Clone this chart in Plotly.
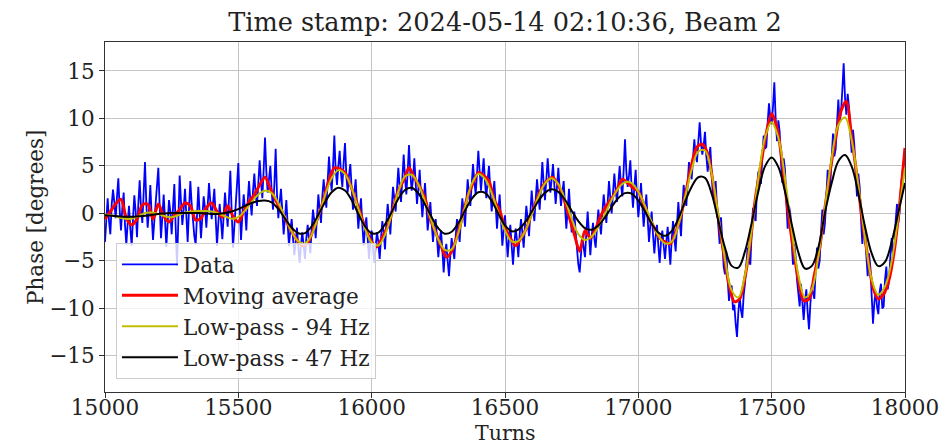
import plotly.graph_objects as go

# ---------------- data ----------------
# Raw data, sampled every 5 turns (15000 ... 18000)
DATA_START, DATA_STEP = 15000, 5
data_phase = [
    -3.0, -0.4, 1.6, -0.8, -2.2, 0.9, 2.5, 1.2, -0.5, 1.8, 3.7, 0.4, -1.8, 0.6, 2.2, -1.2, -3.3, -1.0, 0.8, -1.6,          # 15000
    -3.4, -0.6, 1.9, 0.2, -2.5, 1.0, 3.5, 0.6, -1.0, 2.2, 5.4, 1.0, -1.5, 0.4, 3.0, -0.2, -2.8, -0.8, 1.2, 2.6,            # 15100
    4.8, 0.8, -2.6, -0.4, 2.0, -0.6, -3.5, -1.0, 1.4, 0.2, -2.2, 0.6, 3.1, -1.4, -5.5, -0.8, 4.0, 1.2, -1.2, 0.4,          # 15200
    2.6, -0.2, -3.0, 0.4, 3.4, 1.0, -0.8, -2.4, -3.3, 0.2, 2.8, 0.0, -2.6, -0.4, 1.8, 0.6, -1.5, 0.8, 3.2, 1.2,            # 15300
    -0.6, 1.0, 2.6, -0.4, -3.4, -1.0, 1.0, -0.8, -2.7, -0.2, 2.2, 0.4, -1.4, 1.6, 4.5, 0.2, -3.6, -1.4, 1.3, 3.0,          # 15400
    5.3, 1.0, -2.8, -0.2, 2.0, 0.4, -1.8, 1.2, 3.4, 1.4, -0.2, 2.4, 4.2, 2.0, 0.8, 3.2, 5.6, 3.4, 1.6, 4.6,                # 15500
    8.0, 4.4, 2.2, 3.6, 5.0, 2.4, 0.4, 3.0, 6.8, 2.0, -0.5, 1.2, 2.6, 0.2, -2.2, -0.4, 1.4, -1.2, -3.4, -1.8,              # 15600
    -0.6, -2.6, -4.4, -3.0, -1.5, -3.6, -5.2, -3.2, -2.0, -3.4, -4.8, -2.6, -1.2, -2.8, -4.2, -1.6, 0.4, -0.8, -2.6, -0.4, # 15700
    2.0, 0.4, -1.0, 1.8, 3.6, 2.0, 0.6, 3.4, 6.0, 3.8, 2.4, 4.8, 8.2, 4.6, 3.0, 5.0, 6.6, 4.2, 2.8, 5.4,                   # 15800
    7.4, 4.0, 2.2, 4.0, 5.2, 2.6, 0.4, 2.2, 3.6, 0.8, -1.6, 0.2, 1.6, -1.2, -3.4, -1.6, -0.4, -2.6, -4.8, -3.0,            # 15900
    -1.8, -3.6, -5.2, -3.4, -2.0, -3.0, -4.8, -2.6, -0.8, -2.0, -3.8, -1.0, 1.0, -0.4, -2.2, 0.4, 2.8, 1.6, 0.2, 2.6,      # 16000
    4.8, 2.8, 1.2, 3.6, 6.2, 3.8, 2.0, 4.4, 7.2, 4.2, 2.4, 3.6, 5.8, 3.2, 1.0, 2.6, 4.6, 1.8, -0.4, 1.4,                   # 16100
    3.2, 0.8, -1.8, -0.4, 1.2, -1.0, -3.0, -1.4, -0.6, -2.6, -4.6, -2.8, -1.8, -3.8, -6.2, -4.0, -3.2, -5.0, -6.6, -4.4,   # 16200
    -2.6, -3.8, -4.8, -2.4, -0.6, -1.8, -3.0, -0.4, 1.6, 0.2, -1.4, 1.2, 3.6, 2.0, 0.8, 3.0, 5.2, 3.4, 2.0, 4.2,           # 16300
    6.6, 4.4, 2.4, 4.2, 5.8, 3.2, 1.6, 3.6, 5.0, 2.4, 0.2, 1.8, 3.4, 0.8, -1.6, 0.4, 2.0, -0.6, -3.4, -1.8,                # 16400
    -0.2, -2.4, -4.6, -2.6, -1.2, -3.4, -5.4, -3.2, -1.6, -2.8, -4.6, -2.2, -0.6, -2.0, -3.6, -1.2, 0.8, -0.6, -2.4, 0.0,  # 16500
    2.4, 0.6, -0.8, 1.4, 3.6, 2.0, 0.4, 2.8, 5.4, 3.2, 1.4, 3.6, 5.8, 3.8, 2.2, 3.6, 5.2, 3.0, 1.0, 2.8,                   # 16600
    4.8, 2.6, 0.8, 2.2, 3.4, 0.8, -1.6, 0.4, 2.6, 0.2, -2.0, -0.8, 0.2, -2.0, -4.0, -5.4, -6.2, -4.0, -2.4, -3.6,          # 16700
    -4.6, -2.0, 0.2, -2.2, -4.4, -2.4, -1.0, -2.6, -3.6, -1.4, 0.4, -1.0, -2.2, 0.0, 2.0, 0.6, -1.0, 1.2, 3.4, 1.6,        # 16800
    0.0, 2.2, 4.2, 2.4, 1.2, 3.2, 5.0, 3.0, 1.8, 4.6, 7.8, 4.4, 2.8, 4.0, 5.6, 2.6, 0.6, 2.8, 4.6, 1.8,                    # 16900
    -0.4, 1.2, 3.2, 0.8, -1.4, 0.4, 2.0, -0.6, -3.0, -1.2, 0.2, -2.2, -4.2, -2.4, -1.2, -3.4, -5.2, -3.0, -1.8, -3.4,      # 17000
    -4.8, -3.0, -1.4, -3.4, -5.4, -2.8, -0.8, -2.6, -4.0, -1.2, 1.2, -0.8, -2.4, 0.6, 3.0, 1.6, 0.8, 3.2, 5.4, 4.2,        # 17100
    3.6, 5.8, 7.8, 6.0, 5.4, 7.6, 9.6, 7.4, 6.2, 7.2, 8.6, 6.0, 4.4, 5.8, 7.0, 4.2, 1.6, 2.8, 3.4, 0.6,                    # 17200
    -1.8, -3.2, -0.4, -2.8, -5.6, -6.4, -4.0, -7.0, -9.2, -8.0, -7.6, -10.2, -9.6, -11.6, -13.0, -10.4, -8.8, -10.2, -11.0, -8.6,  # 17300
    -7.4, -5.4, -3.6, -5.0, -5.4, -2.0, 0.6, -0.4, -0.8, 2.6, 4.4, 3.2, 3.2, 6.0, 8.2, 6.8, 7.0, 9.6, 11.6, 10.0,          # 17400
    9.4, 11.2, 13.8, 10.0, 7.6, 9.8, 8.6, 5.4, 3.2, 5.8, 4.6, 1.2, -1.6, 0.8, 0.0, -3.0, -5.4, -3.2, -4.6, -7.0,           # 17500
    -8.8, -9.8, -7.4, -9.6, -11.2, -9.2, -8.0, -10.4, -12.2, -9.6, -7.6, -8.4, -9.0, -6.0, -3.6, -5.8, -5.0, -2.0, 0.4, -2.2,  # 17600
    -1.0, 1.8, 4.6, 2.2, 3.2, 5.8, 8.4, 6.0, 6.8, 9.4, 12.0, 9.6, 10.6, 13.0, 15.8, 12.2, 10.4, 12.6, 11.2, 8.4,           # 17700
    6.4, 8.8, 7.2, 4.0, 1.8, 4.2, 2.8, -0.6, -3.2, -0.8, -1.6, -4.4, -6.6, -4.2, -5.6, -8.6, -11.6, -9.4, -8.2, -9.8,      # 17800
    -10.6, -8.2, -7.4, -10.0, -9.8, -7.0, -5.6, -8.0, -7.2, -4.6, -2.6, -4.4, -3.6, -0.8, 1.0, -1.0, 0.2, 3.0, 4.6, 5.4,   # 17900
    6.8,                                                                                                                  # 18000
]

# Moving average, sampled every 20 turns
MA_START, MA_STEP = 15000, 20
moving_avg = [
    -0.6, 0.2, 1.0, 1.5, -0.5,      # 15000
    -1.2, -0.6, 0.9, 1.0, -0.6,     # 15100
    1.0, -0.3, -0.9, -0.2, 0.4,     # 15200
    1.1, 0.8, -0.7, -0.5, 0.6,      # 15300
    1.1, 0.2, -0.4, 0.8, -0.3,      # 15400
    -0.9, 0.2, 1.2, 2.0, 3.0,       # 15500
    3.8, 2.6, 1.4, 0.4, -0.8,       # 15600
    -1.9, -2.8, -3.4, -3.1, -1.8,   # 15700
    -0.3, 1.5, 3.5, 4.8, 4.7,       # 15800
    4.3, 3.0, 1.5, -0.2, -1.8,      # 15900
    -3.0, -3.5, -2.5, -1.4, 0.5,    # 16000
    2.4, 3.5, 4.8, 3.8, 2.8,        # 16100
    1.6, -0.6, -2.0, -3.4, -4.6,    # 16200
    -4.0, -2.4, -0.4, 1.8, 3.2,     # 16300
    4.3, 4.0, 3.4, 1.4, 0.3,        # 16400
    -1.5, -2.6, -3.4, -2.6, -1.6,   # 16500
    0.0, 1.5, 2.8, 3.5, 3.8,        # 16600
    3.0, 1.6, -0.3, -2.2, -4.0,     # 16700
    -1.8, -2.6, -1.6, -0.2, 0.8,    # 16800
    1.6, 2.5, 3.6, 3.2, 2.7,        # 16900
    2.3, 1.0, -0.5, -1.5, -2.6,     # 17000
    -3.0, -3.2, -2.0, -0.2, 2.5,    # 17100
    5.2, 7.0, 7.3, 6.3, 3.3,        # 17200
    -0.5, -4.2, -7.5, -9.3, -9.0,   # 17300
    -6.7, -3.0, 1.8, 5.2, 8.5,      # 17400
    10.5, 9.0, 5.3, 0.5, -3.5,      # 17500
    -7.0, -9.2, -9.0, -6.5, -3.6,   # 17600
    0.6, 4.6, 8.0, 10.8, 11.8,      # 17700
    8.0, 3.9, -0.8, -4.5, -7.8,     # 17800
    -9.0, -8.5, -7.0, -3.9, 1.0,    # 17900
    6.9,                            # 18000
]

# Low-pass filtered curves, sampled every 25 turns
LP_START, LP_STEP = 15000, 25
lowpass_94 = [
    -0.1, -0.2, -0.4, -0.55,        # 15000
    -0.55, -0.3, 0.05, 0.1,         # 15100
    -0.05, -0.3, -0.4, -0.2,        # 15200
    0.1, 0.2, 0.25, 0.25,           # 15300
    0.2, 0.0, -0.3, -0.55,          # 15400
    -0.4, 0.3, 1.2, 2.0,            # 15500
    2.4, 2.14, 1.11, -0.4,          # 15600
    -1.91, -2.94, -3.16, -2.23,     # 15700
    -0.34, 1.89, 3.71, 4.56,        # 15800
    4.14, 2.64, 0.51, -1.6,         # 15900
    -3.07, -3.37, -2.26, -0.09,     # 16000
    2.29, 3.88, 4.07, 3.08,         # 16100
    1.27, -0.87, -2.74, -3.84,      # 16200
    -3.78, -2.06, 0.65, 3.08,       # 16300
    4.15, 3.65, 2.13, 0.09,         # 16400
    -1.81, -2.93, -2.92, -1.88,     # 16500
    -0.16, 1.73, 3.17, 3.7,         # 16600
    3.08, 1.45, -0.55, -2.18,       # 16700
    -2.8, -2.44, -1.45, -0.05,      # 16800
    1.45, 2.65, 3.29, 3.19,         # 16900
    2.28, 0.79, -0.89, -2.32,       # 17000
    -3.15, -2.99, -1.21, 1.68,      # 17100
    4.61, 6.52, 6.63, 4.16,         # 17200
    -0.17, -4.81, -8.1, -8.84,      # 17300
    -6.48, -1.75, 3.7, 7.98,        # 17400
    9.6, 7.98, 3.7, -1.75,          # 17500
    -6.48, -8.84, -8.05, -4.52,     # 17600
    0.64, 5.79, 9.3, 10.1,          # 17700
    7.72, 2.92, -2.6, -6.94,        # 17800
    -8.58, -7.7, -5.0, -0.3,        # 17900
    4.8,                            # 18000
]
lowpass_47 = [
    -0.2, -0.25, -0.3, -0.35,       # 15000
    -0.35, -0.3, -0.25, -0.15,      # 15100
    -0.05, 0.0, 0.05, 0.05,         # 15200
    0.05, 0.05, 0.05, 0.0,          # 15300
    -0.05, -0.05, 0.05, 0.2,        # 15400
    0.45, 0.8, 1.1, 1.3,            # 15500
    1.35, 1.17, 0.47, -0.55,        # 15600
    -1.5, -2.08, -2.07, -1.35,      # 15700
    -0.14, 1.19, 2.23, 2.71,        # 15800
    2.41, 1.39, -0.06, -1.35,       # 15900
    -2.09, -2.01, -1.15, 0.15,      # 16000
    1.54, 2.47, 2.7, 2.12,          # 16100
    0.95, -0.39, -1.56, -2.14,      # 16200
    -1.93, -1.01, 0.3, 1.53,        # 16300
    2.23, 2.17, 1.31, -0.02,        # 16400
    -1.26, -1.88, -1.7, -0.95,      # 16500
    0.17, 1.29, 2.18, 2.54,         # 16600
    2.27, 1.44, 0.29, -0.8,         # 16700
    -1.55, -1.72, -1.28, -0.41,     # 16800
    0.67, 1.62, 2.14, 2.08,         # 16900
    1.35, 0.2, -1.08, -2.01,        # 17000
    -2.36, -1.86, -0.55, 1.23,      # 17100
    2.82, 3.81, 3.74, 2.07,         # 17200
    -0.78, -3.62, -5.52, -5.7,      # 17300
    -4.0, -1.0, 2.3, 4.95,          # 17400
    5.9, 4.9, 2.3, -1.1,            # 17500
    -4.1, -5.8, -5.55, -3.6,        # 17600
    0.1, 3.2, 5.5, 6.15,            # 17700
    4.95, 2.1, -1.4, -4.2,          # 17800
    -5.55, -5.1, -3.0, 0.1,         # 17900
    3.2,                            # 18000
]

x_ticks = [15000, 15500, 16000, 16500, 17000, 17500, 18000]
x_tick_labels = ["15000", "15500", "16000", "16500", "17000", "17500", "18000"]
y_ticks = [-15, -10, -5, 0, 5, 10, 15]
y_tick_labels = ["\u221215", "\u221210", "\u22125", "0", "5", "10", "15"]
title_text = "Time stamp: 2024-05-14 02:10:36, Beam 2"
x_label = "Turns"
y_label = "Phase [degrees]"
series_names = ["Data", "Moving average", "Low-pass - 94 Hz", "Low-pass - 47 Hz"]

# ---------------- figure ----------------
def turns(start, step, vals):
    return [start + step * i for i in range(len(vals))]

FONT = "DejaVu Serif"
TXT = "#222222"
fig = go.Figure()
fig.add_trace(go.Scatter(x=turns(DATA_START, DATA_STEP, data_phase), y=data_phase,
                         mode="lines", name=series_names[0], legendgroup="a",
                         line=dict(color="#0000ff", width=1.8)))
fig.add_trace(go.Scatter(x=turns(MA_START, MA_STEP, moving_avg), y=moving_avg,
                         mode="lines", name=series_names[1], legendgroup="b",
                         line=dict(color="#ff0000", width=3, shape="spline", smoothing=0.8)))
fig.add_trace(go.Scatter(x=turns(LP_START, LP_STEP, lowpass_94), y=lowpass_94,
                         mode="lines", name=series_names[2], legendgroup="c",
                         line=dict(color="#bfbf00", width=2, shape="spline", smoothing=1.0)))
fig.add_trace(go.Scatter(x=turns(LP_START, LP_STEP, lowpass_47), y=lowpass_47,
                         mode="lines", name=series_names[3], legendgroup="d",
                         line=dict(color="#000000", width=2, shape="spline", smoothing=1.0)))

axis_common = dict(showgrid=True, gridcolor="#c4c4c4", gridwidth=1,
                   showline=True, linecolor="#333333", linewidth=1, mirror=True,
                   ticks="outside", ticklen=5, tickcolor="#333333",
                   tickfont=dict(family=FONT, size=21.5, color=TXT),
                   zeroline=False, automargin=False)

fig.update_layout(
    width=941, height=445,
    margin=dict(l=105, r=36, t=42, b=53),
    paper_bgcolor="white", plot_bgcolor="white",
    font=dict(family=FONT, color=TXT),
    title=dict(text=title_text, x=0.5, xref="paper", xanchor="center",
               y=1 - 22 / 445, yref="container", yanchor="middle",
               font=dict(family=FONT, size=25.6, color=TXT)),
    xaxis=dict(range=[15000, 18000], tickvals=x_ticks, ticktext=x_tick_labels,
               ticklabelstandoff=-9, **axis_common),
    yaxis=dict(range=[-18.8, 18.05], tickvals=y_ticks, ticktext=y_tick_labels, **axis_common),
    legend=dict(x=0.0137, y=0.426, xanchor="left", yanchor="top",
                bgcolor="rgba(255,255,255,0.8)", bordercolor="#cccccc", borderwidth=1,
                font=dict(family=FONT, size=21.5, color=TXT),
                tracegroupgap=0, traceorder="grouped", itemwidth=56),
    showlegend=True,
    annotations=[
        dict(text=x_label, xref="paper", yref="paper", x=0.5, y=-(446.5 - 392) / 350,
             xanchor="center", yanchor="bottom", showarrow=False,
             font=dict(family=FONT, size=20.5, color=TXT)),
        dict(text=y_label, xref="paper", yref="paper", x=(35 - 105) / 800, y=0.5,
             xanchor="center", yanchor="middle", showarrow=False, textangle=-90,
             font=dict(family=FONT, size=21.5, color=TXT)),
    ],
)

fig.write_html("out.html")
